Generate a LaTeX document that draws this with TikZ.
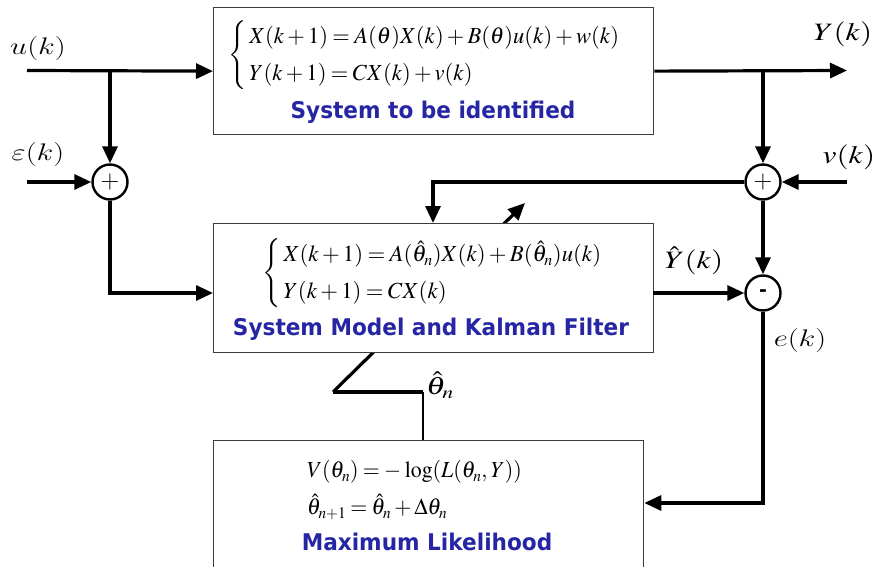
\RequirePackage{fix-cm}
\documentclass[tikz,border=0pt]{standalone}
\usepackage[no-math]{fontspec}
\usepackage{graphicx}
\newfontfamily\titlefont{DejaVu Sans}
\usetikzlibrary{arrows.meta}
\DeclareMathVersion{times}
\SetSymbolFont{operators}{times}{OT1}{ztmcm}{m}{n}
\SetSymbolFont{letters}{times}{OML}{ztmcm}{m}{it}
\SetSymbolFont{symbols}{times}{OMS}{ztmcm}{m}{n}
\SetSymbolFont{largesymbols}{times}{OMX}{ztmcm}{m}{n}
\definecolor{titleblue}{RGB}{38,38,165}
\definecolor{boxgray}{RGB}{60,60,60}
\newcommand{\tlab}[1]{\scalebox{1.25}[1]{\mathversion{times}$#1$}}
\newcommand{\clab}[1]{\scalebox{1.28}[1]{$#1$}}
\newcommand{\teq}[2]{\scalebox{#1}[1]{\mathversion{times}\renewcommand{\arraystretch}{1.37}\medmuskip=2.5mu\thickmuskip=3.5mu$#2$}}
\newcommand{\lbrc}{\left\{\rule[-25pt]{0pt}{60pt}\right.\kern-2pt}
\newcommand{\ttl}[1]{\scalebox{0.94}[1]{#1}}
\begin{document}
\begin{tikzpicture}[x=1pt,y=-1pt,
  box/.style={draw=boxgray, line width=1.3pt, fill=white, anchor=north west, inner sep=0pt},
  sig/.style={line width=3.2pt},
  arr/.style={sig, -{Triangle[length=17pt,width=15pt]}},
  sumnode/.style={circle, draw, line width=2.4pt, minimum size=35pt, inner sep=0pt, fill=white},
  title/.style={font=\titlefont\bfseries\fontsize{23}{27}\selectfont, text=titleblue},
  eq/.style={font=\fontsize{23}{27}\selectfont, anchor=west, inner sep=0pt},
  tl/.style={font=\fontsize{25}{29}\selectfont},
  cl/.style={font=\fontsize{24}{28}\selectfont},
]
\useasboundingbox (0,0) rectangle (883,567);

% tuning arrow (behind the model box)
\coordinate (tunelow) at (333,392);
\coordinate (tunehigh) at (525,203);
\draw[arr] (tunelow) -- (tunehigh);

% boxes
\node[box, minimum width=440pt, minimum height=127pt] (sys) at (213,7) {};
\node[box, minimum width=440pt, minimum height=129pt] (model) at (213,223) {};
\node[box, minimum width=430pt, minimum height=140pt] (ml) at (213,440) {};

% box contents
\node[eq] (syseq) at (228,55) {\teq{0.98}{\lbrc\begin{array}{@{}l@{}} X(k+1)=A(\theta)X(k)+B(\theta)u(k)+w(k)\\ Y(k+1)=CX(k)+v(k)\end{array}}};
\node[title] (systitle) at (433,112) {\ttl{System to be identified}};

\node[eq] (modeq) at (262,273) {\teq{0.99}{\lbrc\begin{array}{@{}l@{}} X(k+1)=A(\hat{\theta}_n)X(k)+B(\hat{\theta}_n)u(k)\\ Y(k+1)=CX(k)\end{array}}};
\node[title] (modtitle) at (431,329) {\ttl{System Model and Kalman Filter}};

\node[eq] (mleq) at (307,489) {\teq{0.95}{\begin{array}{@{}l@{}} V(\theta_n)=-\log(L(\theta_n,Y))\\ \hat{\theta}_{n+1}=\hat{\theta}_n+\Delta\theta_n\end{array}}};
\node[title] (mltitle) at (427,542) {\ttl{Maximum Likelihood}};

% summing junctions
\node[sumnode] (s1) at (110,182) {\fontsize{26}{26}\selectfont$+$};
\node[sumnode] (s2) at (763,182) {\fontsize{26}{26}\selectfont$+$};
\node[sumnode] (s3) at (763,293) {\titlefont\bfseries\fontsize{19}{19}\selectfont -};

% helper coordinates
\coordinate (uin) at (27,70.5);
\coordinate (ubranch) at (110,70.5);
\coordinate (epsin) at (27,182);
\coordinate (modin) at (213,293);
\coordinate (yout) at (847,70.5);
\coordinate (ybranch) at (763,70.5);
\coordinate (vin) at (847,182);
\coordinate (fbcorner) at (433,182);
\coordinate (yhatout) at (653,293);
\coordinate (ecorner) at (763,503);
\coordinate (thcorner) at (423,392);

% connectors
\draw[arr] (uin) -- (sys.west);
\draw[arr] (ubranch) -- (s1);
\draw[arr] (epsin) -- (s1);
\draw[arr] (s1) |- (modin);
\draw[arr] (sys.east) -- (yout);
\draw[arr] (ybranch) -- (s2);
\draw[arr] (vin) -- (s2);
\draw[arr] (s2) -- (fbcorner) -- (fbcorner |- model.north);
\draw[arr] (s2) -- (s3);
\draw[arr] (yhatout) -- (s3);
\draw[arr] (s3) -- (ecorner) -- (ecorner -| ml.east);
\draw[sig] (tunelow) -- (thcorner);
\draw[line width=1.6pt] (thcorner) -- (thcorner |- ml.north);

% labels
\node[cl] (ulab) at (38,49) {\clab{u(k)}};
\node[cl] (epslab) at (38,155) {\clab{\varepsilon(k)}};
\node[tl] (ylab) at (843,34) {\tlab{Y(k)}};
\node[tl] (vlab) at (849,157) {\tlab{v(k)}};
\node[tl] (yhatlab) at (694,261) {\tlab{\hat{Y}(k)}};
\node[cl] (elab) at (800,340) {\clab{e(k)}};
\node[tl] (thlab) at (440,385) {\tlab{\hat{\theta}_n}};
\end{tikzpicture}
\end{document}
